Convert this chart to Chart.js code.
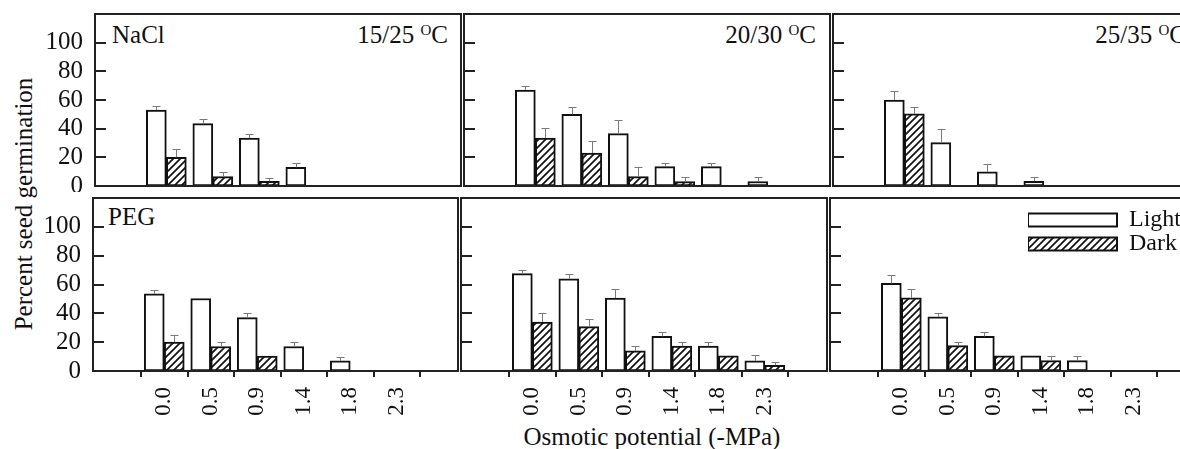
<!DOCTYPE html>
<html>
<head>
<meta charset="utf-8">
<script src="https://cdn.jsdelivr.net/npm/chart.js@4.4.0/dist/chart.umd.min.js"></script>
<style>
    body { margin: 0; background: #fff; }
    #wrap { position: relative; width: 1180px; height: 449px; overflow: hidden; font-family: 'Liberation Serif', 'Times New Roman', serif; color: #111; }
    #wrap canvas { position: absolute; }
    .lbl { position: absolute; font-size: 25px; line-height: 25px; white-space: nowrap; }
    .deg { font-size: 15px; position: relative; top: -8px; }
</style>
</head>
<body>
<div id="wrap">
    <div class="lbl" style="left:112px; top:22px;">NaCl</div>
    <div class="lbl" style="right:732px; top:22px;">15/25 <span class="deg">O</span>C</div>
    <div class="lbl" style="right:364px; top:22px;">20/30 <span class="deg">O</span>C</div>
    <div class="lbl" style="right:-6px; top:22px;">25/35 <span class="deg">O</span>C</div>
    <div class="lbl" style="left:108px; top:204px;">PEG</div>
    <div class="lbl" style="left:652px; top:424px; transform:translateX(-50%);">Osmotic potential (-MPa)</div>
    <div class="lbl" style="left:23px; top:204px; transform:translate(-50%, -50%) rotate(-90deg);">Percent seed germination</div>
</div>
<script>
// osmotic potential classes (-MPa) and y tick values
const potentials = ['0.0', '0.5', '0.9', '1.4', '1.8', '2.3'];
const yTicks = [0, 20, 40, 60, 80, 100];

// NaCl
const naclLight1525 = [53, 43.5, 33.5, 13, 0, 0];
const naclLightErr1525 = [3, 3.3, 2.5, 3.3, 0, 0];
const naclDark1525 = [20, 6.5, 3.3, 0, 0, 0];
const naclDarkErr1525 = [5.5, 3.5, 2.5, 0, 0, 0];

const naclLight2030 = [67, 50, 36.5, 13.5, 13.5, 3];
const naclLightErr2030 = [3, 5.4, 9.3, 2.8, 2.8, 3];
const naclDark2030 = [33.5, 23, 6.5, 3, 0, 0];
const naclDarkErr2030 = [6.7, 8.6, 6.6, 3, 0, 0];

const naclLight2535 = [60, 30.3, 9.8, 3.3, 0, 0];
const naclLightErr2535 = [6, 9.6, 5.4, 2.8, 0, 0];
const naclDark2535 = [50.3, 0, 0, 0, 0, 0];
const naclDarkErr2535 = [4.9, 0, 0, 0, 0, 0];

// PEG
const pegLight1525 = [53.5, 50.3, 37, 17, 7, 0];
const pegLightErr1525 = [3, 0, 3.2, 2.8, 3, 0];
const pegDark1525 = [20, 17, 10.4, 0, 0, 0];
const pegDarkErr1525 = [5.3, 2.8, 0, 0, 0, 0];

const pegLight2030 = [67.5, 64, 50.6, 24, 17.2, 7];
const pegLightErr2030 = [2.8, 3, 6, 3, 3.2, 3.9];
const pegDark2030 = [34, 30.8, 14, 17.2, 10.6, 3.9];
const pegDarkErr2030 = [6, 5.2, 3.3, 3.2, 0, 2.6];

const pegLight2535 = [60.8, 37.6, 24, 10.6, 7.2, 0];
const pegLightErr2535 = [5.5, 2.6, 2.8, 0, 3.4, 0];
const pegDark2535 = [50.8, 17.6, 10.6, 7.2, 0, 0];
const pegDarkErr2535 = [5.8, 2.8, 0, 3.4, 0, 0];

Chart.defaults.font.family = "'Liberation Serif', 'Times New Roman', serif";
Chart.defaults.color = '#111';

// where each plot box sits on the page
const panels = [
    { light: naclLight1525, lightErr: naclLightErr1525, dark: naclDark1525, darkErr: naclDarkErr1525, left: 95, top: 14, width: 366, height: 172, col: 0, row: 0 },
    { light: naclLight2030, lightErr: naclLightErr2030, dark: naclDark2030, darkErr: naclDarkErr2030, left: 464, top: 14, width: 366, height: 172, col: 1, row: 0 },
    { light: naclLight2535, lightErr: naclLightErr2535, dark: naclDark2535, darkErr: naclDarkErr2535, left: 833, top: 14, width: 366, height: 172, col: 2, row: 0 },
    { light: pegLight1525, lightErr: pegLightErr1525, dark: pegDark1525, darkErr: pegDarkErr1525, left: 93, top: 198, width: 365, height: 173, col: 0, row: 1 },
    { light: pegLight2030, lightErr: pegLightErr2030, dark: pegDark2030, darkErr: pegDarkErr2030, left: 461, top: 198, width: 366, height: 173, col: 1, row: 1 },
    { light: pegLight2535, lightErr: pegLightErr2535, dark: pegDark2535, darkErr: pegDarkErr2535, left: 830, top: 198, width: 366, height: 173, col: 2, row: 1, legend: true }
];

const catSpacing = 55.8;
const firstOffset = 49;

function makeHatch() {
    var c = document.createElement('canvas');
    c.width = 7;
    c.height = 7;
    var g = c.getContext('2d');
    g.fillStyle = '#fff';
    g.fillRect(0, 0, 7, 7);
    g.strokeStyle = '#111';
    g.lineWidth = 1.7;
    g.beginPath();
    g.moveTo(-1, 8); g.lineTo(8, -1);
    g.moveTo(-1, 1); g.lineTo(1, -1);
    g.moveTo(6, 8); g.lineTo(8, 6);
    g.stroke();
    return g.createPattern(c, 'repeat');
}
const hatch = makeHatch();

const errorBars = {
    id: 'errorBars',
    afterDatasetsDraw(chart) {
        var ctx = chart.ctx;
        var yScale = chart.scales.y;
        ctx.save();
        ctx.strokeStyle = '#7a7a7a';
        ctx.lineWidth = 1;
        chart.data.datasets.forEach(function (ds, di) {
            chart.getDatasetMeta(di).data.forEach(function (bar, i) {
                var e = ds.errors[i];
                if (!e) return;
                var yTop = Math.round(yScale.getPixelForValue(ds.data[i].y + e)) + 0.5;
                var x = Math.round(bar.x) + 0.5;
                ctx.beginPath();
                ctx.moveTo(x, bar.y);
                ctx.lineTo(x, yTop);
                ctx.moveTo(x - 4, yTop);
                ctx.lineTo(x + 4, yTop);
                ctx.stroke();
            });
        });
        ctx.restore();
    }
};

const frame = {
    id: 'frame',
    afterLayout(chart) {
        var lg = chart.legend;
        if (!lg || !lg.options.display) return;
        var a = chart.chartArea;
        var w = lg.width, h = lg.height;
        lg.left = a.left + 198;
        lg.top = a.top + 10;
        lg.right = lg.left + w;
        lg.bottom = lg.top + h;
    },
    afterDraw(chart) {
        var ctx = chart.ctx;
        var a = chart.chartArea;
        var yScale = chart.scales.y;
        ctx.save();
        ctx.strokeStyle = '#222';
        ctx.lineWidth = 2;
        ctx.strokeRect(a.left, a.top, a.right - a.left, a.bottom - a.top);
        ctx.beginPath();
        yTicks.forEach(function (v) {
            if (v === 0) return;
            var py = Math.round(yScale.getPixelForValue(v));
            ctx.moveTo(a.left, py);
            ctx.lineTo(a.left + 11, py);
        });
        ctx.stroke();
        ctx.restore();
    }
};

function drawPanel(p) {
    var padL = p.col === 0 ? p.left : 6;
    var padT = 4, padR = 4;
    var padB = p.row === 1 ? 449 - (p.top + p.height) : 6;
    var canvas = document.createElement('canvas');
    canvas.width = padL + p.width + padR;
    canvas.height = padT + p.height + padB;
    canvas.style.left = (p.left - padL) + 'px';
    canvas.style.top = (p.top - padT) + 'px';
    document.getElementById('wrap').appendChild(canvas);

    var xMin = -firstOffset / catSpacing;
    var xMax = xMin + p.width / catSpacing;
    var bottomRow = p.row === 1;

    new Chart(canvas, {
        type: 'bar',
        data: {
            datasets: [
                {
                    label: 'Light',
                    data: p.light.map((v, i) => ({ x: i, y: v })),
                    errors: p.lightErr,
                    backgroundColor: '#fff',
                    borderColor: '#111',
                    borderWidth: 2,
                    borderSkipped: false,
                    barThickness: 20
                },
                {
                    label: 'Dark',
                    data: p.dark.map((v, i) => ({ x: i, y: v })),
                    errors: p.darkErr,
                    backgroundColor: hatch,
                    borderColor: '#111',
                    borderWidth: 2,
                    borderSkipped: false,
                    barThickness: 20
                }
            ]
        },
        options: {
            responsive: false,
            animation: false,
            layout: { autoPadding: false, padding: { left: 0, top: padT, right: padR, bottom: 0 } },
            plugins: {
                tooltip: { enabled: false },
                legend: {
                    display: !!p.legend,
                    position: 'chartArea',
                    align: 'start',
                    labels: { boxWidth: 89, boxHeight: 13, padding: 0, font: { size: 24 }, color: '#111' }
                }
            },
            scales: {
                x: {
                    type: 'linear',
                    min: xMin,
                    max: xMax,
                    afterBuildTicks: s => { s.ticks = potentials.map((_, i) => ({ value: i })); },
                    afterFit: s => { s.height = padB; s.paddingLeft = 0; s.paddingRight = 0; },
                    ticks: {
                        display: bottomRow,
                        autoSkip: false,
                        minRotation: 90,
                        maxRotation: 90,
                        padding: 10,
                        font: { size: 23 },
                        callback: v => potentials[v]
                    },
                    grid: { display: bottomRow, drawOnChartArea: false, drawTicks: bottomRow, tickLength: 6, color: '#222', lineWidth: 2 },
                    border: { display: false }
                },
                y: {
                    min: 0,
                    max: 120,
                    afterBuildTicks: s => { s.ticks = yTicks.map(v => ({ value: v })); },
                    afterFit: s => { s.width = padL; s.paddingTop = 0; s.paddingBottom = 0; },
                    ticks: { display: p.col === 0, autoSkip: false, padding: 12, font: { size: 25 } },
                    grid: { display: false, drawTicks: false },
                    border: { display: false }
                }
            }
        },
        plugins: [errorBars, frame]
    });
}

panels.forEach(drawPanel);
</script>
</body>
</html>
